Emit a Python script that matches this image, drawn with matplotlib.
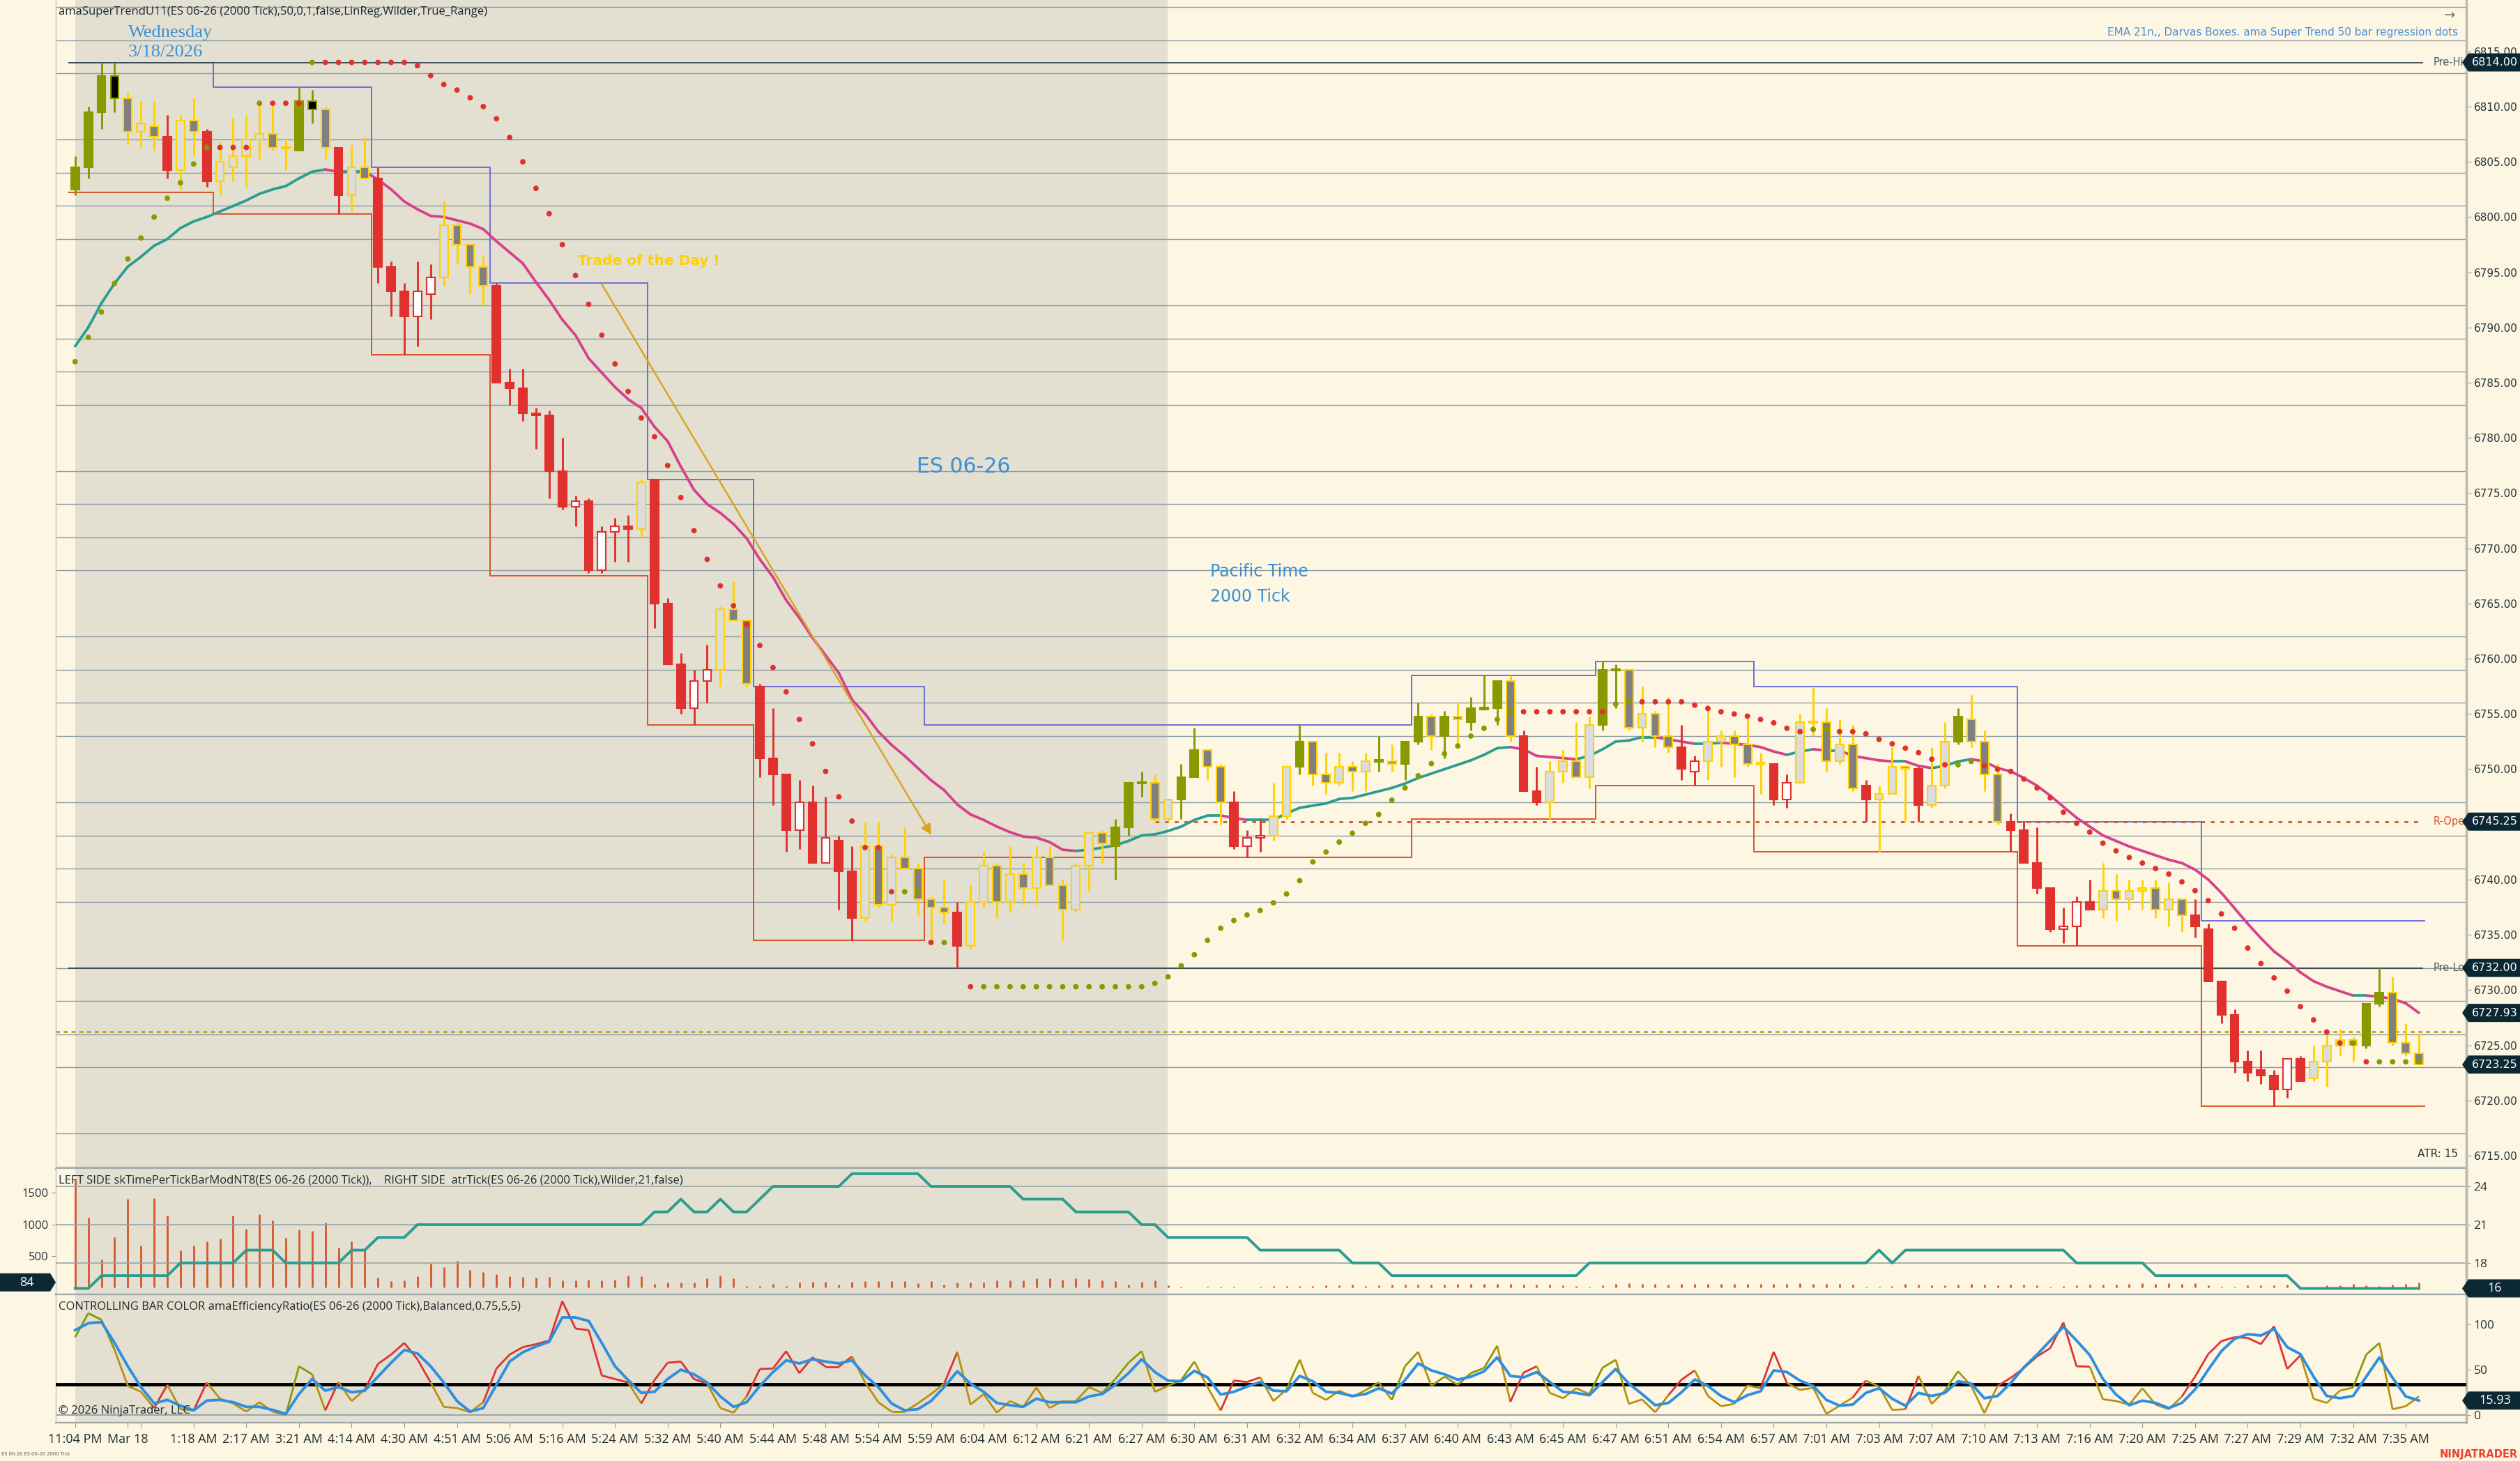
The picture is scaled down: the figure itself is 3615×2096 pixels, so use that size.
import numpy as np
import matplotlib
matplotlib.use('Agg')
import matplotlib.pyplot as plt
from matplotlib.collections import LineCollection
from matplotlib.patches import Polygon
from matplotlib.transforms import IdentityTransform
from matplotlib.ticker import MultipleLocator, FuncFormatter

plt.rcParams['font.family'] = ['DejaVu Sans']

# ---- ES 06-26, 2000 tick bars ----
bar_open = [
    6802.5, 6804.5, 6809.5, 6812.75, 6810.75, 6807.75, 6808.25, 6807.25, 6804.25, 6808.75,
    6807.75, 6803.25, 6804.5, 6805.5, 6807.0, 6807.5, 6806.25, 6806.0, 6810.5, 6809.75,
    6806.25, 6802.0, 6804.5, 6803.5, 6795.5, 6793.25, 6791.0, 6793.0, 6794.5, 6799.25,
    6797.5, 6795.5, 6793.75, 6785.0, 6784.5, 6782.25, 6782.0, 6777.0, 6773.75, 6774.25,
    6768.0, 6771.5, 6772.0, 6771.75, 6776.25, 6765.0, 6759.5, 6755.5, 6758.0, 6759.0,
    6764.5, 6763.5, 6757.5, 6751.0, 6749.5, 6744.5, 6747.0, 6741.5, 6743.5, 6740.75,
    6736.5, 6743.0, 6737.75, 6742.0, 6741.0, 6738.25, 6737.5, 6737.0, 6734.0, 6738.0,
    6741.25, 6738.0, 6740.5, 6739.25, 6742.0, 6739.5, 6737.25, 6741.25, 6744.25, 6743.0,
    6744.75, 6748.75, 6748.75, 6745.5, 6747.25, 6749.25, 6751.75, 6750.25, 6747.0, 6743.0,
    6743.75, 6744.0, 6745.75, 6750.25, 6752.5, 6749.5, 6748.75, 6750.25, 6749.75, 6750.75,
    6750.75, 6750.5, 6752.5, 6754.75, 6753.0, 6754.75, 6754.25, 6755.5, 6755.5, 6758.0,
    6753.0, 6748.0, 6747.0, 6749.75, 6750.75, 6749.25, 6754.0, 6759.0, 6759.0, 6753.75,
    6755.0, 6753.0, 6752.0, 6749.75, 6750.75, 6752.5, 6753.0, 6752.25, 6750.5, 6750.5,
    6747.25, 6748.75, 6754.25, 6754.25, 6750.75, 6752.25, 6748.5, 6747.25, 6747.75, 6750.25,
    6750.0, 6746.75, 6748.5, 6752.5, 6754.5, 6752.5, 6749.5, 6745.25, 6744.5, 6741.5,
    6739.25, 6735.5, 6735.75, 6738.0, 6737.25, 6739.0, 6738.25, 6739.0, 6739.25, 6737.25,
    6738.25, 6736.75, 6735.5, 6730.75, 6727.75, 6723.5, 6722.75, 6722.25, 6721.0, 6723.75,
    6722.0, 6723.5, 6725.0, 6725.5, 6725.0, 6728.75, 6729.75, 6725.25, 6724.25]

bar_high = [
    6805.5, 6810.0, 6814.0, 6814.0, 6811.25, 6810.5, 6810.5, 6809.25, 6809.25, 6810.75,
    6808.0, 6806.75, 6809.0, 6809.25, 6810.5, 6810.25, 6807.0, 6811.75, 6811.5, 6810.0,
    6806.25, 6806.5, 6807.25, 6804.5, 6796.0, 6794.0, 6796.0, 6795.75, 6801.5, 6799.5,
    6797.5, 6796.5, 6794.0, 6786.25, 6786.25, 6782.75, 6782.5, 6780.0, 6774.75, 6774.5,
    6772.0, 6772.75, 6773.0, 6776.25, 6776.25, 6765.5, 6760.5, 6759.0, 6761.25, 6764.75,
    6767.0, 6763.5, 6757.75, 6755.5, 6749.5, 6749.0, 6748.5, 6747.5, 6744.0, 6743.0,
    6745.25, 6745.25, 6742.25, 6744.75, 6741.5, 6738.5, 6740.0, 6738.0, 6739.5, 6742.5,
    6741.5, 6743.0, 6741.5, 6743.0, 6743.0, 6740.0, 6741.5, 6744.25, 6744.5, 6745.5,
    6748.75, 6749.75, 6749.5, 6747.25, 6750.5, 6753.75, 6751.75, 6750.5, 6748.0, 6744.5,
    6745.5, 6748.75, 6750.25, 6754.0, 6752.5, 6751.5, 6751.5, 6750.75, 6751.5, 6753.0,
    6752.25, 6752.5, 6756.0, 6755.0, 6755.25, 6756.0, 6756.5, 6758.5, 6758.0, 6758.5,
    6753.5, 6750.25, 6750.75, 6751.75, 6754.25, 6754.75, 6759.75, 6759.5, 6759.0, 6757.5,
    6755.25, 6756.5, 6754.0, 6751.25, 6755.5, 6753.5, 6753.5, 6754.75, 6751.5, 6750.5,
    6749.5, 6755.0, 6757.5, 6755.5, 6754.5, 6754.0, 6749.0, 6748.5, 6752.0, 6750.25,
    6750.25, 6752.0, 6754.25, 6755.5, 6756.75, 6753.5, 6750.5, 6746.0, 6745.25, 6744.75,
    6739.25, 6737.5, 6738.5, 6740.0, 6741.5, 6740.5, 6740.0, 6740.0, 6740.0, 6739.75,
    6738.25, 6738.25, 6736.0, 6730.75, 6728.25, 6724.5, 6724.5, 6722.75, 6723.75, 6724.0,
    6725.0, 6726.0, 6726.5, 6725.75, 6728.75, 6732.0, 6731.25, 6727.0, 6726.0]

bar_low = [
    6802.0, 6803.5, 6808.0, 6809.5, 6806.5, 6806.25, 6806.0, 6803.5, 6802.5, 6805.5,
    6802.75, 6802.0, 6803.25, 6802.75, 6805.25, 6806.0, 6804.25, 6806.0, 6808.5, 6805.25,
    6800.25, 6800.5, 6803.5, 6794.0, 6791.0, 6787.5, 6788.25, 6790.75, 6793.75, 6795.75,
    6793.0, 6792.0, 6785.0, 6783.0, 6781.5, 6779.0, 6774.5, 6773.5, 6772.0, 6767.75,
    6767.75, 6768.75, 6768.75, 6771.0, 6762.75, 6759.5, 6755.0, 6754.0, 6756.0, 6757.5,
    6763.5, 6757.5, 6749.25, 6746.75, 6742.5, 6742.75, 6741.5, 6741.5, 6737.25, 6734.5,
    6736.25, 6737.5, 6736.25, 6741.0, 6736.75, 6734.5, 6736.0, 6732.0, 6733.75, 6737.5,
    6736.5, 6737.0, 6737.75, 6737.75, 6739.5, 6734.5, 6737.0, 6739.0, 6741.5, 6740.0,
    6744.0, 6747.5, 6745.25, 6745.25, 6745.5, 6749.25, 6749.0, 6745.0, 6742.75, 6742.0,
    6742.5, 6743.5, 6745.5, 6749.5, 6748.5, 6747.75, 6748.5, 6748.0, 6748.0, 6749.75,
    6749.75, 6749.0, 6752.25, 6751.75, 6751.0, 6752.25, 6753.5, 6755.5, 6754.0, 6752.5,
    6748.0, 6746.75, 6745.5, 6748.75, 6749.25, 6748.25, 6753.5, 6755.5, 6753.5, 6752.5,
    6752.0, 6751.5, 6749.0, 6748.5, 6749.0, 6750.25, 6749.25, 6750.25, 6747.75, 6746.75,
    6746.5, 6748.75, 6753.0, 6749.75, 6750.5, 6748.0, 6745.25, 6742.5, 6747.75, 6745.25,
    6745.25, 6746.5, 6748.25, 6752.25, 6752.0, 6748.0, 6745.0, 6742.5, 6741.5, 6738.75,
    6735.25, 6734.25, 6734.0, 6737.25, 6736.5, 6736.25, 6737.25, 6737.25, 6736.5, 6735.75,
    6735.25, 6734.75, 6730.75, 6727.0, 6722.5, 6721.75, 6721.5, 6719.5, 6720.25, 6721.75,
    6721.75, 6721.25, 6724.0, 6723.5, 6724.75, 6728.5, 6725.0, 6724.0, 6723.25]

bar_close = [
    6804.5, 6809.5, 6812.75, 6810.75, 6807.75, 6808.5, 6807.25, 6804.25, 6808.75, 6807.75,
    6803.25, 6805.0, 6805.5, 6807.0, 6807.5, 6806.25, 6806.25, 6810.5, 6809.75, 6806.25,
    6802.0, 6804.5, 6803.5, 6795.5, 6793.25, 6791.0, 6793.25, 6794.5, 6799.25, 6797.5,
    6795.5, 6793.75, 6785.0, 6784.5, 6782.25, 6782.0, 6777.0, 6773.75, 6774.25, 6768.0,
    6771.5, 6772.0, 6771.75, 6776.0, 6765.0, 6759.5, 6755.5, 6758.0, 6759.0, 6764.5,
    6763.5, 6757.75, 6751.0, 6749.5, 6744.5, 6747.0, 6741.5, 6743.75, 6740.75, 6736.5,
    6743.0, 6737.75, 6742.0, 6741.0, 6738.25, 6737.5, 6737.0, 6734.0, 6738.0, 6741.25,
    6738.0, 6740.5, 6739.25, 6742.0, 6739.5, 6737.25, 6741.25, 6744.25, 6743.25, 6744.75,
    6748.75, 6748.75, 6745.5, 6747.25, 6749.25, 6751.75, 6750.25, 6747.0, 6743.0, 6743.75,
    6744.0, 6745.75, 6750.25, 6752.5, 6749.5, 6748.75, 6750.25, 6749.75, 6750.75, 6750.75,
    6750.5, 6752.5, 6754.75, 6753.0, 6754.75, 6754.5, 6755.5, 6755.5, 6758.0, 6753.0,
    6748.0, 6747.0, 6749.75, 6750.75, 6749.25, 6754.0, 6759.0, 6759.0, 6753.75, 6755.0,
    6753.0, 6752.0, 6750.0, 6750.75, 6752.5, 6753.0, 6752.25, 6750.5, 6750.5, 6747.25,
    6748.75, 6754.25, 6754.25, 6750.75, 6752.25, 6748.25, 6747.25, 6747.75, 6750.25, 6750.0,
    6746.75, 6748.5, 6752.5, 6754.75, 6752.5, 6749.5, 6745.25, 6744.5, 6741.5, 6739.25,
    6735.5, 6735.75, 6738.0, 6737.25, 6739.0, 6738.25, 6739.0, 6739.25, 6737.25, 6738.25,
    6736.75, 6735.75, 6730.75, 6727.75, 6723.5, 6722.5, 6722.25, 6721.0, 6723.75, 6721.75,
    6723.5, 6725.0, 6725.5, 6725.0, 6728.75, 6729.75, 6725.25, 6724.25, 6723.25]

# bar colour state from the efficiency ratio: g = trend up, r = trend down, y = neutral
bar_regime = ("ggggyyyryy" "ryyyyyyggy" "ryyrrrrryy" "yyrrrrrrrr" "rrryrrrrry"
              "yyrrrrrrrr" "yyyyyyyryy" "yyyyyyyyyg" "ggyyggyyrr" "ryygyyyyyg"
              "yggygygggy" "rryyyyggyy" "yyrryyyyyr" "ryyyyyryyy" "ryygyyyrrr"
              "rrrryyyyyy" "yrrrrrrrrr" "yyyyggyyy")

ema21 = [
    6788.3, 6790.0, 6792.2, 6794.0, 6795.5, 6796.4, 6797.4, 6798.0, 6799.0, 6799.6,
    6800.0, 6800.5, 6801.0, 6801.5, 6802.1, 6802.5, 6802.8, 6803.5, 6804.1, 6804.3,
    6804.1, 6804.1, 6804.1, 6803.4, 6802.5, 6801.4, 6800.7, 6800.1, 6800.0, 6799.7,
    6799.4, 6798.9, 6797.8, 6796.8, 6795.8, 6794.1, 6792.5, 6790.7, 6789.3, 6787.2,
    6785.9, 6784.6, 6783.5, 6782.7, 6781.0, 6779.7, 6777.4, 6775.3, 6774.0, 6773.2,
    6772.2, 6770.9, 6769.0, 6767.4, 6765.3, 6763.7, 6761.9, 6760.3, 6758.7, 6756.3,
    6755.0, 6753.4, 6752.2, 6751.2, 6750.1, 6749.0, 6748.1, 6746.8, 6745.9, 6745.4,
    6744.8, 6744.3, 6743.9, 6743.8, 6743.4, 6742.7, 6742.6, 6742.7, 6742.9, 6743.1,
    6743.5, 6744.0, 6744.1, 6744.4, 6744.8, 6745.4, 6745.8, 6745.8, 6745.6, 6745.4,
    6745.4, 6745.4, 6746.0, 6746.5, 6746.7, 6746.9, 6747.3, 6747.4, 6747.7, 6748.0,
    6748.3, 6748.7, 6749.2, 6749.6, 6750.0, 6750.4, 6750.8, 6751.3, 6751.9, 6752.0,
    6751.8, 6751.2, 6751.1, 6751.0, 6750.9, 6751.2, 6751.8, 6752.5, 6752.6, 6752.9,
    6752.9, 6752.7, 6752.5, 6752.3, 6752.3, 6752.4, 6752.3, 6752.2, 6752.0, 6751.6,
    6751.3, 6751.6, 6751.8, 6751.7, 6751.7, 6751.2, 6751.0, 6750.8, 6750.7, 6750.7,
    6750.3, 6750.1, 6750.3, 6750.7, 6750.9, 6750.7, 6750.1, 6749.8, 6749.2, 6748.5,
    6747.6, 6746.6, 6745.6, 6744.8, 6744.0, 6743.5, 6743.0, 6742.6, 6742.2, 6741.8,
    6741.5, 6740.9, 6740.0, 6738.8, 6737.4, 6736.0, 6734.7, 6733.5, 6732.6, 6731.6,
    6730.8, 6730.3, 6729.9, 6729.5, 6729.5, 6729.4, 6729.2, 6728.8, 6727.93]

st_value = [
    6786.9, 6789.1, 6791.4, 6794.0, 6796.2, 6798.1, 6800.0, 6801.7, 6803.1, 6804.8,
    6806.3, 6806.3, 6806.3, 6806.3, 6810.3, 6810.3, 6810.3, 6810.3, 6814.0, 6814.0,
    6814.0, 6814.0, 6814.0, 6814.0, 6814.0, 6814.0, 6813.7, 6812.8, 6812.0, 6811.5,
    6810.8, 6810.0, 6808.9, 6807.2, 6805.0, 6802.6, 6800.3, 6797.5, 6794.7, 6792.1,
    6789.3, 6786.7, 6784.2, 6781.8, 6780.1, 6777.5, 6774.6, 6771.6, 6769.0, 6766.6,
    6764.8, 6763.1, 6761.2, 6759.2, 6757.0, 6754.5, 6752.3, 6749.8, 6747.5, 6745.3,
    6742.9, 6742.9, 6738.9, 6738.9, 6738.9, 6734.3, 6734.3, 6734.3, 6730.3, 6730.3,
    6730.3, 6730.3, 6730.3, 6730.3, 6730.3, 6730.3, 6730.3, 6730.3, 6730.3, 6730.3,
    6730.3, 6730.3, 6730.6, 6731.2, 6732.2, 6733.2, 6734.5, 6735.6, 6736.3, 6736.8,
    6737.2, 6737.9, 6738.7, 6739.9, 6741.6, 6742.5, 6743.4, 6744.2, 6745.1, 6745.9,
    6747.2, 6748.3, 6749.4, 6750.5, 6751.4, 6752.1, 6753.0, 6753.7, 6754.5, 6755.2,
    6755.2, 6755.2, 6755.2, 6755.2, 6755.2, 6755.2, 6755.2, 6755.9, 6756.1, 6756.1,
    6756.1, 6756.1, 6756.1, 6755.8, 6755.5, 6755.2, 6755.0, 6754.8, 6754.5, 6754.2,
    6753.7, 6753.4, 6753.6, 6753.6, 6753.4, 6753.4, 6753.2, 6752.7, 6752.3, 6751.9,
    6751.5, 6750.9, 6750.4, 6750.4, 6750.7, 6750.3, 6750.0, 6749.8, 6749.1, 6748.3,
    6747.4, 6746.1, 6745.1, 6744.3, 6743.3, 6742.6, 6742.0, 6741.5, 6741.0, 6740.5,
    6739.8, 6739.0, 6738.1, 6736.9, 6735.6, 6733.8, 6732.4, 6731.1, 6729.9, 6728.5,
    6727.3, 6726.2, 6725.2, 6725.2, 6723.5, 6723.5, 6723.5, 6723.5, 6723.5]

# side of the super trend dot, one letter per bar (g below price, r above)
st_side = ("ggggggggggg" "rrr" "g" "rrr" "g"
           "rrrrrrrrrr" "rrrrrrrrrr" "rrrrrrrrrr" "rrrrrrrrrr" "rrrr"
           "gg" "r" "g" "rr"
           "gggggggggg" "gggggggggg" "gggggggggg" "gggggggggg" "g"
           "rrrrrrr" "gg" "rrrrrrrrrr" "rrr" "gg" "rrrrrrrrr" "gg"
           "rrrrrrrrrr" "rrrrrrrrrr" "rrrrrrrr" "g" "r" "gggg")

# Darvas boxes
box_edges = [-0.5, 10.5, 22.5, 31.5, 43.5, 51.5, 64.5, 101.5, 115.5, 127.5, 147.5, 161.5, 178.5]
box_top = [6814.0, 6811.75, 6804.5, 6794.0, 6776.25, 6757.5, 6754.0, 6758.5, 6759.75, 6757.5,
           6745.25, 6736.25]
box_bottom = [6802.25, 6800.25, 6787.5, 6767.5, 6754.0, 6734.5, 6742.0, 6745.5, 6748.5, 6742.5,
              6734.0, 6719.5]

pre_high = 6814.00
pre_low = 6732.00
r_open = 6745.25
gold_level = 6726.25
atr_text = 15

# lower panel 1: time per tick (left) and atrTick (right)
tick_time = [
    1700, 1104, 448, 798, 1405, 669, 1412, 1140, 588, 662,
    732, 780, 1140, 934, 1162, 1063, 787, 919, 897, 1030,
    633, 736, 600, 154, 106, 117, 183, 375, 324, 423,
    280, 250, 213, 180, 173, 162, 165, 117, 117, 125,
    110, 125, 191, 183, 62, 81, 81, 81, 147, 191,
    147, 25, 22, 55, 25, 81, 92, 92, 51, 92,
    106, 106, 106, 103, 66, 103, 51, 81, 81, 81,
    110, 117, 117, 147, 147, 125, 147, 136, 117, 106,
    51, 88, 110, 36, 14, 7, 14, 14, 14, 7,
    18, 25, 25, 25, 25, 33, 36, 44, 25, 36,
    51, 51, 44, 44, 51, 62, 62, 55, 55, 62,
    44, 44, 51, 36, 25, 18, 33, 55, 69, 55,
    55, 51, 55, 55, 55, 55, 62, 55, 55, 55,
    55, 69, 62, 62, 62, 45, 18, 18, 25, 55,
    51, 33, 33, 44, 55, 44, 36, 44, 44, 33,
    18, 25, 33, 44, 44, 51, 62, 69, 62, 69,
    62, 69, 33, 18, 18, 33, 33, 33, 44, 7,
    7, 33, 33, 55, 36, 25, 51, 55, 84]

atr_tick = [
    16, 16, 17, 17, 17, 17, 17, 17, 18, 18,
    18, 18, 18, 19, 19, 19, 18, 18, 18, 18,
    18, 19, 19, 20, 20, 20, 21, 21, 21, 21,
    21, 21, 21, 21, 21, 21, 21, 21, 21, 21,
    21, 21, 21, 21, 22, 22, 23, 22, 22, 23,
    22, 22, 23, 24, 24, 24, 24, 24, 24, 25,
    25, 25, 25, 25, 25, 24, 24, 24, 24, 24,
    24, 24, 23, 23, 23, 23, 22, 22, 22, 22,
    22, 21, 21, 20, 20, 20, 20, 20, 20, 20,
    19, 19, 19, 19, 19, 19, 19, 18, 18, 18,
    17, 17, 17, 17, 17, 17, 17, 17, 17, 17,
    17, 17, 17, 17, 17, 18, 18, 18, 18, 18,
    18, 18, 18, 18, 18, 18, 18, 18, 18, 18,
    18, 18, 18, 18, 18, 18, 18, 19, 18, 19,
    19, 19, 19, 19, 19, 19, 19, 19, 19, 19,
    19, 19, 18, 18, 18, 18, 18, 18, 17, 17,
    17, 17, 17, 17, 17, 17, 17, 17, 17, 16,
    16, 16, 16, 16, 16, 16, 16, 16, 16]

# lower panel 2: efficiency ratio and its signal
er_value = [
    85.9, 112.3, 105.1, 71.8, 32.1, 25.6, 7.7, 33.3, 6.4, 5.1,
    35.9, 18.0, 12.8, 3.8, 14.1, 3.8, 0.0, 53.8, 44.9, 5.1,
    36.4, 15.4, 28.2, 56.4, 66.7, 79.5, 61.5, 35.9, 9.0, 7.7,
    3.1, 14.1, 51.3, 66.7, 74.9, 78.2, 82.1, 125.6, 95.4, 93.6,
    43.6, 39.7, 35.9, 12.8, 38.5, 57.7, 59.0, 39.7, 34.6, 7.7,
    2.6, 20.5, 50.8, 51.3, 70.5, 46.2, 63.6, 53.3, 53.3, 64.6,
    35.9, 14.1, 3.8, 3.8, 12.8, 23.1, 34.6, 69.7, 11.5, 23.1,
    2.6, 15.4, 9.0, 30.3, 7.7, 15.4, 15.4, 30.8, 24.4, 39.7,
    57.7, 70.5, 25.6, 32.1, 38.5, 59.0, 30.8, 5.1, 38.0, 36.4,
    41.5, 15.4, 28.2, 61.0, 24.4, 16.7, 26.9, 20.0, 27.4, 35.9,
    16.7, 53.8, 69.7, 32.1, 42.3, 33.3, 46.2, 51.8, 76.4, 14.6,
    46.7, 53.8, 24.4, 18.5, 29.5, 23.1, 52.1, 61.0, 12.3, 17.2,
    3.1, 21.8, 39.0, 49.2, 21.0, 9.7, 12.3, 32.6, 29.5, 69.7,
    35.4, 27.7, 30.0, 1.3, 10.3, 19.2, 38.0, 31.3, 5.6, 6.4,
    43.1, 12.3, 26.9, 48.2, 32.1, 2.1, 32.1, 41.0, 51.8, 64.6,
    73.8, 102.1, 53.8, 53.3, 17.4, 15.4, 11.5, 29.5, 11.5, 6.4,
    20.5, 42.3, 67.2, 81.5, 85.9, 85.1, 78.2, 98.0, 50.8, 65.9,
    17.9, 13.3, 26.9, 30.3, 66.7, 79.5, 6.4, 9.7, 20.5]

er_signal = [
    93.6, 101.3, 102.6, 79.5, 53.8, 30.8, 12.8, 16.7, 10.3, 5.1,
    15.9, 16.7, 14.1, 9.0, 9.0, 5.6, 1.3, 23.1, 39.7, 26.9,
    30.8, 25.1, 26.9, 42.3, 57.7, 71.8, 67.9, 53.8, 35.9, 15.4,
    3.8, 7.7, 33.3, 59.0, 69.2, 75.6, 80.8, 107.7, 107.7, 103.8,
    79.5, 53.8, 38.5, 24.4, 25.6, 39.7, 50.0, 44.9, 35.9, 20.5,
    9.0, 14.1, 32.1, 47.4, 60.3, 56.9, 61.5, 59.0, 56.9, 60.3,
    43.6, 30.8, 12.8, 5.1, 6.4, 15.4, 30.8, 48.2, 34.6, 25.6,
    13.3, 10.8, 9.0, 18.0, 14.1, 14.1, 14.1, 20.5, 23.1, 33.3,
    46.2, 61.5, 47.4, 37.9, 37.2, 48.7, 41.5, 22.6, 25.6, 31.3,
    36.4, 26.9, 26.2, 43.1, 37.2, 25.6, 24.4, 21.0, 23.1, 29.5,
    23.6, 38.5, 56.9, 49.2, 44.9, 39.0, 42.3, 48.2, 63.6, 43.1,
    41.5, 47.4, 36.4, 25.6, 24.4, 21.8, 36.4, 50.8, 34.6, 23.1,
    10.8, 13.3, 25.1, 39.2, 32.1, 21.0, 14.1, 21.8, 26.2, 49.2,
    47.4, 37.9, 32.1, 16.7, 10.3, 11.5, 24.4, 29.5, 17.9, 10.3,
    24.4, 21.0, 24.4, 37.2, 34.6, 18.5, 21.0, 35.4, 52.6, 66.7,
    82.1, 97.4, 82.1, 66.2, 39.7, 22.6, 10.8, 15.9, 13.3, 7.7,
    13.3, 28.2, 50.0, 70.5, 84.1, 89.2, 87.7, 94.9, 74.9, 67.2,
    42.3, 21.0, 18.5, 21.0, 42.3, 63.6, 41.0, 20.5, 15.93]
er_level = 34

xtick_bars = [0, 4, 5, 9, 13, 17, 21, 25, 29, 33, 37, 41, 45, 49, 53, 57, 61, 65, 69, 73, 77,
              81, 85, 89, 93, 97, 101, 105, 109, 113, 117, 121, 125, 129, 133, 137, 141,
              145, 149, 153, 157, 161, 165, 169, 173, 177]
xtick_text = ['11:04 PM', 'Mar 18', '', '1:18 AM', '2:17 AM', '3:21 AM', '4:14 AM', '4:30 AM',
              '4:51 AM', '5:06 AM', '5:16 AM', '5:24 AM', '5:32 AM', '5:40 AM', '5:44 AM',
              '5:48 AM', '5:54 AM', '5:59 AM', '6:04 AM', '6:12 AM', '6:21 AM', '6:27 AM',
              '6:30 AM', '6:31 AM', '6:32 AM', '6:34 AM', '6:37 AM', '6:40 AM', '6:43 AM',
              '6:45 AM', '6:47 AM', '6:51 AM', '6:54 AM', '6:57 AM', '7:01 AM', '7:03 AM',
              '7:07 AM', '7:10 AM', '7:13 AM', '7:16 AM', '7:20 AM', '7:25 AM', '7:27 AM',
              '7:29 AM', '7:32 AM', '7:35 AM']
eth_end = 82.96   # end of the shaded overnight session

n = len(bar_close)
series = (bar_open, bar_high, bar_low, bar_regime, ema21, st_value, st_side,
          tick_time, atr_tick, er_value, er_signal)
assert all(len(a) == n for a in series), [len(a) for a in series]

# colours
BG = '#fdf6e3'
SHADE = '#e3e0d1'
GRID = '#8c9ba6'
OLIVE = '#889a00'
RED = '#e0312f'
GOLD = '#ffd200'
TEAL = '#2a9d8f'
MAGENTA = '#d6418a'
NAVY = '#0b2833'
TXT = '#26343a'
BLUE_TXT = '#3b8fd8'

W, H = 3616, 2096
fig = plt.figure(figsize=(W / 100, H / 100), dpi=100, facecolor=BG)
L, R = 80, 3538


def panel(top, bottom, **kw):
    return fig.add_axes([L / W, 1 - bottom / H, (R - L) / W, (bottom - top) / H], **kw)


def ftext(x, y, s, **kw):
    return fig.text(x / W, 1 - y / H, s, **kw)


ax = panel(0, 1677)
ax2 = panel(1677, 1857, sharex=ax)
ax3 = panel(1857, 2041, sharex=ax)
ax2b = ax2.twinx()

for a in (ax, ax2, ax3):
    a.set_facecolor(BG)
    a.axvspan(0, eth_end, color=SHADE, lw=0, zorder=0)
    a.set_axisbelow(True)
for a in (ax, ax2, ax3, ax2b):
    a.spines['top'].set_visible(False)
    a.spines['right'].set_color('#b9b9b0')
    a.spines['right'].set_linewidth(2.5)
    a.spines['left'].set_color('#c3c3ba')
    a.spines['left'].set_linewidth(1.0)
    a.spines['bottom'].set_color('#9ea8ab')
    a.spines['bottom'].set_linewidth(1.6)
ax2b.spines['left'].set_visible(False)

ax.set_xlim(-1.47, 181.6)
xs = np.arange(n)

# ---------------- main price panel ----------------
ax.set_ylim(6713.8, 6819.65)
ax.yaxis.tick_right()
ax.yaxis.set_major_locator(MultipleLocator(5))
ax.yaxis.set_major_formatter(FuncFormatter(lambda v, p: f'{v:.2f}'))
ax.yaxis.set_minor_locator(MultipleLocator(3))
ax.grid(True, which='minor', axis='y', color=GRID, lw=1.0)
ax.grid(False, which='major')
ax.tick_params(axis='y', which='major', length=5, color='#9a9a9a', labelsize=11,
               labelcolor=TXT, pad=3)
ax.tick_params(axis='y', which='minor', length=0)
ax.tick_params(axis='x', which='both', bottom=False, labelbottom=False)

# darvas boxes
ax.stairs(box_top, box_edges, baseline=None, color='#6e6ed6', lw=1.4, zorder=2)
ax.stairs(box_bottom, box_edges, baseline=None, color='#d9532b', lw=1.4, zorder=2)

# level lines
ax.hlines([pre_high, pre_low], -0.5, 178.3, color='#33474d', lw=1.3, zorder=2)
ax.hlines(r_open, 82.0, 178.3, color='#d9532b', lw=2.0, linestyles=(0, (2, 3)), zorder=2)
ax.hlines(gold_level, -1.47, 181.4, color='#c9a100', lw=2.0, linestyles=(0, (2, 2)), zorder=2)
for lvl, name, col in ((pre_high, 'Pre-High', '#4c5a60'), (r_open, 'R-Open', '#d9532b'),
                       (pre_low, 'Pre-Low', '#4c5a60')):
    ax.text(179.1, lvl, name, ha='left', va='center', fontsize=10.5, color=col,
            clip_on=True, zorder=3)

# EMA 21, coloured by slope
ema = np.array(ema21)
pts = np.column_stack([xs, ema])
segs = np.stack([pts[:-1], pts[1:]], axis=1)
ema_cols = [TEAL if ema[i + 1] >= ema[i] else MAGENTA for i in range(n - 1)]
ax.add_collection(LineCollection(segs, colors=ema_cols, lw=2.7, zorder=3, capstyle='round'))

# candles
o = np.array(bar_open)
c = np.array(bar_close)
fills, edges, wicks = [], [], []
for oo, cc, rg in zip(o, c, bar_regime):
    up = cc >= oo
    if rg == 'g':
        fills.append(OLIVE if up else 'black'); edges.append(OLIVE); wicks.append(OLIVE)
    elif rg == 'r':
        fills.append('white' if up else RED); edges.append(RED); wicks.append(RED)
    else:
        fills.append('#dcdcdc' if up else '#808080'); edges.append(GOLD); wicks.append(GOLD)
body_lo = np.minimum(o, c)
body_h = np.abs(c - o)
thin = body_h < 0.15
body_lo = np.where(thin, body_lo - 0.075, body_lo)
body_h = np.where(thin, 0.15, body_h)
ax.vlines(xs, bar_low, bar_high, colors=wicks, lw=2.1, zorder=4)
ax.bar(xs, body_h, bottom=body_lo, width=0.62, color=fills, edgecolor=edges,
       linewidth=1.5, zorder=5)

# super trend dots
ax.scatter(xs, st_value, s=32, c=[OLIVE if s == 'g' else RED for s in st_side],
           linewidths=0, zorder=6)

# trade arrow
ax.annotate('', xy=(65.1, 6743.9), xytext=(39.9, 6794.1),
            arrowprops=dict(arrowstyle='-|>', color='#d9a521', lw=1.8, mutation_scale=22),
            zorder=3)

# ---------------- time per tick / atrTick ----------------
ax2.set_ylim(-107, 1880)
ax2.vlines(xs, 0, tick_time, color='#d6552a', lw=2.0, zorder=3)
ax2.set_yticks([500, 1000, 1500])
ax2.tick_params(axis='y', left=True, labelleft=True, right=False, labelright=False,
                length=4, color='#9a9a9a', labelsize=12, labelcolor=TXT,
                labelfontfamily='Open Sans')
ax2.tick_params(axis='x', which='both', bottom=False, labelbottom=False)

ax2b.set_ylim(15.53, 25.37)
ax2b.plot(xs, atr_tick, color=TEAL, lw=2.8, zorder=4)
ax2b.set_yticks([18, 21, 24])
ax2b.grid(True, axis='y', color='#9aa4a8', lw=1.2)
ax2b.tick_params(axis='y', length=4, color='#9a9a9a', labelsize=12.5, labelcolor=TXT,
                 labelfontfamily='Open Sans')

# ---------------- efficiency ratio ----------------
ax3.set_ylim(-8.46, 133.1)
ax3.yaxis.tick_right()
ax3.set_yticks([0, 50, 100])
ax3.tick_params(axis='y', length=4, color='#9a9a9a', labelsize=12.5, labelcolor=TXT,
                labelfontfamily='Open Sans')
ax3.axhline(0, color='#9aa4a8', lw=1.5, zorder=1)
ax3.axhline(er_level, color='black', lw=3.5, zorder=3)
erv = np.array(er_value)
epts = np.column_stack([xs, erv])
esegs = np.stack([epts[:-1], epts[1:]], axis=1)
er_map = {'g': OLIVE, 'r': RED, 'y': '#b8900c'}
er_cols = [er_map[bar_regime[i + 1]] for i in range(n - 1)]
ax3.add_collection(LineCollection(esegs, colors=er_cols, lw=2.0, zorder=4))
ax3.plot(xs, er_signal, color='#2e8fe0', lw=2.8, zorder=5)
ax3.set_xticks(xtick_bars)
ax3.set_xticklabels(xtick_text, fontsize=13, family='Open Sans', color='#1f2d33')
ax3.tick_params(axis='x', length=5, color='#9a9a9a', pad=6)


# ---------------- price / value markers ----------------
def marker(axis, value, label, size=11.5, family='DejaVu Sans', side='right'):
    ypx = axis.transData.transform((0, value))[1]
    h = 13
    if side == 'right':
        poly = [(3532, ypx), (3541, ypx + h), (3616, ypx + h), (3616, ypx - h), (3541, ypx - h)]
        tx = 3579
    else:
        poly = [(0, ypx + h), (72, ypx + h), (80, ypx), (72, ypx - h), (0, ypx - h)]
        tx = 38
    fig.add_artist(Polygon(poly, closed=True, transform=IdentityTransform(),
                           facecolor=NAVY, edgecolor='none', zorder=10))
    fig.text(tx / W, ypx / H, label, ha='center', va='center', color='white',
             fontsize=size, family=family, zorder=11)


marker(ax, pre_high, f'{pre_high:.2f}')
marker(ax, r_open, f'{r_open:.2f}')
marker(ax, pre_low, f'{pre_low:.2f}')
marker(ax, ema21[-1], f'{ema21[-1]:.2f}')
marker(ax, bar_close[-1], f'{bar_close[-1]:.2f}')
marker(ax2b, atr_tick[-1], f'{atr_tick[-1]}', size=13, family='Open Sans')
marker(ax3, er_signal[-1], f'{er_signal[-1]:.2f}', size=13, family='Open Sans')
marker(ax2, tick_time[-1], f'{tick_time[-1]}', size=13, family='Open Sans', side='left')

# ---------------- texts ----------------
ftext(84, 17, 'amaSuperTrendU11(ES 06-26 (2000 Tick),50,0,1,false,LinReg,Wilder,True_Range)',
      fontsize=12, family='Open Sans', color='#1e2a30', va='center')
ftext(184, 47, 'Wednesday', fontsize=19, family='Liberation Serif', color=BLUE_TXT, va='center')
ftext(184, 75, '3/18/2026', fontsize=19, family='Liberation Serif', color=BLUE_TXT, va='center')
ftext(829, 374, 'Trade of the Day !', fontsize=14.5, fontweight='bold', color='#ffd000',
      va='center')
ftext(1382, 669, 'ES 06-26', fontsize=21.5, color=BLUE_TXT, ha='center', va='center')
ftext(1736, 820, 'Pacific Time', fontsize=17, color=BLUE_TXT, va='center')
ftext(1736, 856, '2000 Tick', fontsize=17, color=BLUE_TXT, va='center')
ftext(3526, 47, 'EMA 21n,, Darvas Boxes. ama Super Trend 50 bar regression dots',
      fontsize=11, color='#4a90d9', ha='right', va='center')
ftext(3522, 22, '\u2192', fontsize=14, color='#707070', ha='right', va='center')
ftext(3526, 1656, f'ATR: {atr_text}', fontsize=11, color=TXT, ha='right', va='center')
ftext(84, 1694, 'LEFT SIDE skTimePerTickBarModNT8(ES 06-26 (2000 Tick)),    RIGHT SIDE  '
      'atrTick(ES 06-26 (2000 Tick),Wilder,21,false)',
      fontsize=12, family='Open Sans', color='#1e2a30', va='center')
ftext(84, 1875, 'CONTROLLING BAR COLOR amaEfficiencyRatio(ES 06-26 (2000 Tick),Balanced,0.75,5,5)',
      fontsize=12, family='Open Sans', color='#1e2a30', va='center')
ftext(84, 2024, '\u00a9 2026 NinjaTrader, LLC', fontsize=12, family='Open Sans',
      color='#1e2a30', va='center')
ftext(2, 2087, 'ES 06-26 ES 06-26 2000 Tick', fontsize=5.5, family='Open Sans',
      color='#555555', va='center')
ftext(3612, 2086, 'NINJATRADER', fontsize=10.5, fontweight='bold', color='#e8452c',
      ha='right', va='center')

fig.savefig('out.png', dpi=100, facecolor=BG)
